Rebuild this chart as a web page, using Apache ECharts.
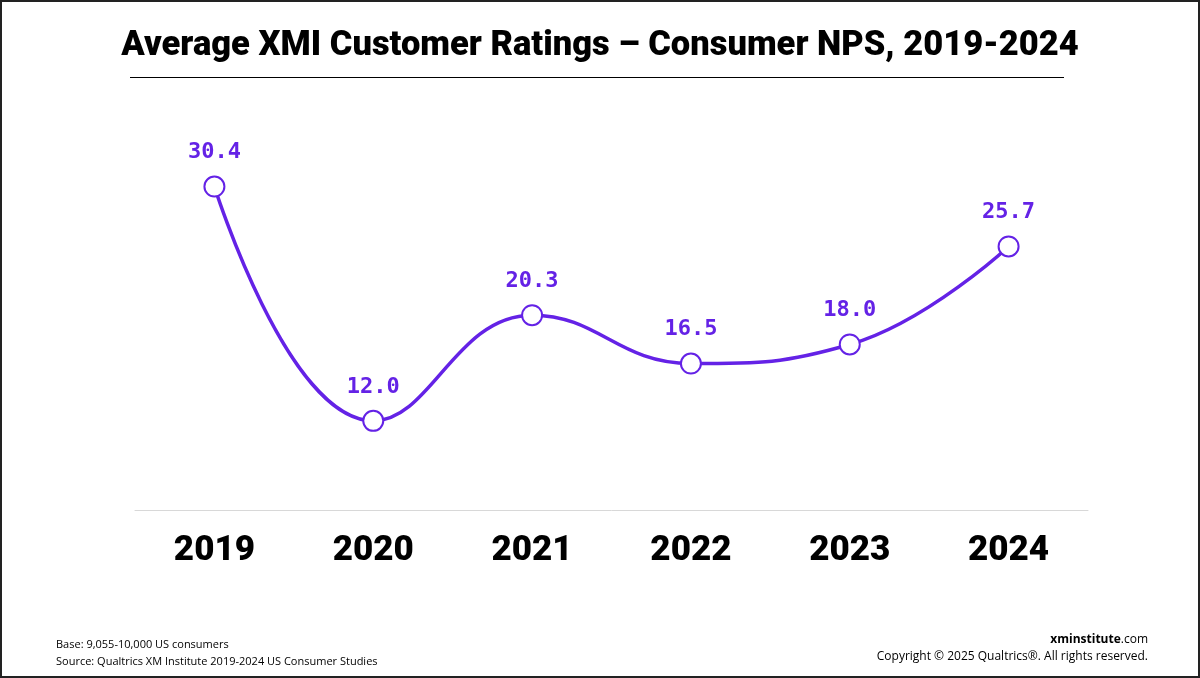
<!DOCTYPE html>
<html>
<head>
<meta charset="utf-8">
<script src="https://cdn.jsdelivr.net/npm/echarts@6/dist/echarts.min.js"></script>
<style>
html, body { margin: 0; padding: 0; background: #fff; }
#chart { width: 1200px; height: 678px; box-sizing: border-box; border: 2px solid #222; }
</style>
</head>
<body>
<div id="chart"></div>
<script>
var years = ['2019', '2020', '2021', '2022', '2023', '2024'];
var npsValues = [30.4, 12.0, 20.3, 16.5, 18.0, 25.7];

var purple = '#6422e6';
var chart = echarts.init(document.getElementById('chart'));
chart.setOption({
	title : {
		text : 'Average XMI Customer Ratings \u2013 Consumer NPS, 2019-2024',
		left : 'center',
		top : 22,
		textStyle : { fontFamily : 'Roboto', fontWeight : 900, fontSize : 34.5, color : '#000' }
	},
	graphic : [
		{ type : 'line', shape : { x1 : 128, y1 : 75.5, x2 : 1062, y2 : 75.5 }, style : { stroke : '#000', lineWidth : 1.2 } },
		{ type : 'text', left : 54, top : 634, style : { text : 'Base: 9,055-10,000 US consumers\nSource: Qualtrics XM Institute 2019-2024 US Consumer Studies', font : '11px "Open Sans"', fill : '#000', lineHeight : 17 } },
		{ type : 'text', right : 50, top : 632, style : { text : '{b|xminstitute}.com', rich : { b : { fontWeight : 'bold', fontFamily : 'Open Sans', fontSize : 12 } }, font : '12px "Open Sans"', fill : '#000', align : 'right' } },
		{ type : 'text', right : 50, top : 649, style : { text : 'Copyright \u00a9 2025 Qualtrics\u00ae. All rights reserved.', font : '12px "Open Sans"', fill : '#000', align : 'right' } }
	],
	grid : { left : 133, right : 110, top : 126, bottom : 166 },
	xAxis : {
		type : 'category',
		data : years,
		axisLine : { lineStyle : { color : '#d8d8d8' } },
		axisTick : { show : false },
		axisLabel : { margin : 24, fontFamily : 'Roboto', fontWeight : 900, fontSize : 35, color : '#000' }
	},
	yAxis : { type : 'value', min : 5, max : 35, show : false, splitLine : { show : false } },
	series : [ {
		type : 'line',
		data : npsValues,
		smooth : 0.45,
		lineStyle : { color : purple, width : 3.5 },
		symbol : 'circle',
		symbolSize : 20,
		itemStyle : { color : '#fff', borderColor : purple, borderWidth : 2 },
		label : {
			show : true,
			position : 'top',
			distance : 12,
			formatter : function (p) { return p.value.toFixed(1); },
			fontFamily : 'DejaVu Sans Mono',
			fontWeight : 'bold',
			fontSize : 22,
			color : purple
		}
	} ]
});
</script>
</body>
</html>
